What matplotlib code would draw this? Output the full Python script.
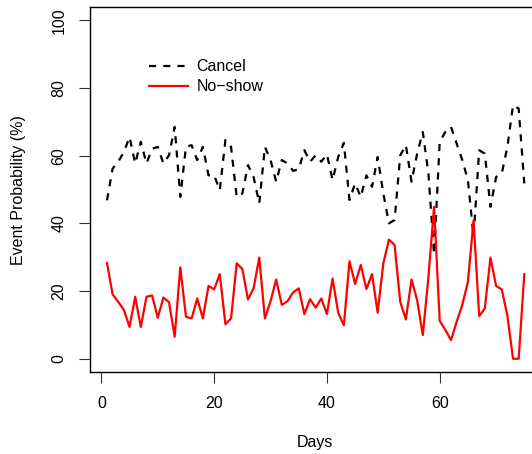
import matplotlib
matplotlib.use("Agg")
import matplotlib.pyplot as plt
import numpy as np

plt.rcParams['font.family'] = ['Liberation Sans', 'DejaVu Sans']

days = list(range(1, 76))
cancel = [46.8, 56.2, 58.2, 61.1, 65.5, 57.7, 64.1, 57.7, 62.0, 62.6,
          57.7, 60.1, 68.5, 47.8, 62.6, 63.1, 58.7, 62.6, 54.2, 54.2,
          49.8, 64.6, 62.6, 47.8, 48.8, 57.2, 53.7, 45.9, 62.6, 58.7,
          52.3, 58.7, 57.7, 55.5, 56.0, 61.6, 58.2, 60.1, 58.2, 60.4,
          52.8, 59.6, 63.8, 46.9, 51.8, 47.8, 54.2, 50.8, 59.6, 48.8,
          40.0, 41.0, 60.1, 63.1, 52.3, 60.6, 67.0, 54.7, 30.8, 64.1,
          67.0, 68.5, 63.6, 58.7, 52.8, 36.0, 61.6, 60.6, 44.9, 53.7,
          54.7, 62.6, 74.9, 73.9, 51.8]
noshow = [28.3, 19.0, 16.8, 14.4, 9.4, 18.3, 9.4, 18.3, 18.7, 12.1,
          18.1, 16.7, 6.5, 27.0, 12.4, 11.9, 17.8, 11.9, 21.5, 20.5,
          25.0, 10.2, 11.9, 28.2, 26.5, 17.5, 20.8, 29.9, 11.9, 17.0,
          23.4, 15.9, 17.0, 19.6, 20.8, 13.2, 17.6, 15.1, 17.8, 13.2,
          23.7, 13.6, 9.9, 28.8, 22.1, 27.7, 20.6, 25.0, 13.6, 28.2,
          35.2, 33.6, 16.8, 11.6, 23.4, 17.3, 7.0, 24.2, 44.9, 11.2,
          8.5, 5.5, 10.9, 15.9, 22.7, 40.9, 12.6, 14.9, 29.9, 21.5,
          20.5, 12.7, 0.0, 0.0, 25.0]
xticks = [0, 20, 40, 60]
yticks = [0, 20, 40, 60, 80, 100]

W, H = 532, 454
fig = plt.figure(figsize=(W / 100, H / 100), dpi=100)
l, r, t, b = 90.3, 541.0, 6.7, 372.3
ax = fig.add_axes([l / W, 1 - b / H, (r - l) / W, (b - t) / H])

ax.plot(days, cancel, color='black', lw=1.6, linestyle=(0, (3.2, 3.2)),
        label='Cancel', dash_capstyle='butt')
ax.plot(days, noshow, color='#ff0000', lw=1.6, label='No\u2212show')

ax.set_xlim(-1.96, 77.96)
ax.set_ylim(-4, 104)
ax.set_xticks(xticks)
ax.set_yticks(yticks)
ax.set_yticklabels([str(v) for v in yticks], rotation=90, va='center')
ax.tick_params(axis='both', direction='out', length=8, width=0.8,
               labelsize=11.5, color='#333333')
ax.tick_params(axis='x', pad=9)
ax.tick_params(axis='y', pad=9)
for s in ax.spines.values():
    s.set_linewidth(1.0)

fig.text(315 / W, 1 - 442 / H, 'Days', ha='center', va='center', fontsize=11.5)
fig.text(19 / W, 1 - 190 / H, 'Event Probability (%)', ha='center',
         va='center', rotation=90, fontsize=11.5)

leg = ax.legend(loc='upper left', bbox_to_anchor=((143 - l) / (r - l), 1 - (53 - t) / (b - t)),
                frameon=False, fontsize=11.5, handlelength=2.4, handletextpad=0.55,
                labelspacing=0.3, borderaxespad=0)

fig.savefig('out.png', dpi=100)
